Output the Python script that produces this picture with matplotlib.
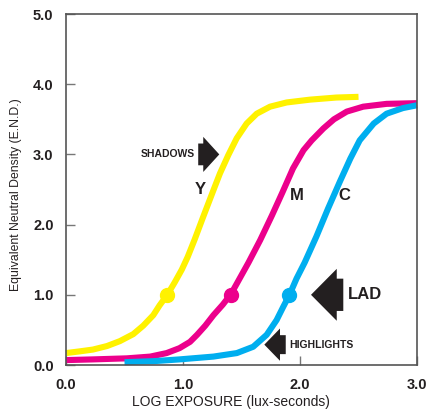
import matplotlib.pyplot as plt
from matplotlib.patches import FancyArrow

plt.rcParams['font.family'] = ['Liberation Sans', 'DejaVu Sans']

# values
yellow_x = [0.0, 0.12, 0.23, 0.35, 0.46, 0.575, 0.66, 0.746, 0.80, 0.866, 0.93, 0.99, 1.04, 1.10, 1.17,
            1.26, 1.316, 1.387, 1.459, 1.544, 1.63, 1.744, 1.886, 2.085, 2.31, 2.5]
yellow_y = [0.17, 0.195, 0.22, 0.27, 0.34, 0.44, 0.56, 0.71, 0.85, 1.0, 1.18, 1.36, 1.54, 1.79, 2.1,
            2.49, 2.73, 2.99, 3.23, 3.44, 3.58, 3.68, 3.74, 3.78, 3.81, 3.82]

magenta_x = [0.0, 0.23, 0.52, 0.72, 0.86, 0.97, 1.06, 1.12, 1.19, 1.26, 1.34, 1.41, 1.50, 1.56, 1.66,
             1.76, 1.85, 1.94, 2.03, 2.1, 2.2, 2.29, 2.40, 2.54, 2.74, 3.0]
magenta_y = [0.07, 0.08, 0.095, 0.12, 0.17, 0.24, 0.33, 0.43, 0.56, 0.71, 0.86, 1.01, 1.28, 1.46, 1.78,
             2.13, 2.46, 2.80, 3.06, 3.2, 3.37, 3.5, 3.61, 3.68, 3.72, 3.73]

cyan_x = [0.5, 0.75, 0.97, 1.26, 1.46, 1.60, 1.715, 1.80, 1.857, 1.91, 1.97, 2.04, 2.14, 2.24, 2.34,
          2.43, 2.51, 2.63, 2.74, 2.88, 3.0]
cyan_y = [0.04, 0.055, 0.08, 0.12, 0.17, 0.26, 0.43, 0.64, 0.83, 1.0, 1.23, 1.46, 1.83, 2.23, 2.61,
          2.94, 3.2, 3.44, 3.58, 3.66, 3.70]

# LAD points (density 1.0)
lad_x = [0.866, 1.41, 1.91]
lad_y = [1.0, 1.0, 1.0]

YELLOW = "#FFF200"
MAGENTA = "#EC008C"
CYAN = "#00AEEF"
DARK = "#231F20"

fig = plt.figure(figsize=(4.3, 4.13), dpi=100)
ax = fig.add_axes([0.1535, 0.1162, 0.8163, 0.8499])

for xs, ys, c in [(yellow_x, yellow_y, YELLOW), (magenta_x, magenta_y, MAGENTA), (cyan_x, cyan_y, CYAN)]:
    ax.plot(xs, ys, color=c, lw=4.4, solid_capstyle="butt", solid_joinstyle="round", clip_on=False)

for px, py, c in zip(lad_x, lad_y, [YELLOW, MAGENTA, CYAN]):
    ax.plot(px, py, "o", color=c, ms=10, zorder=5)

# curve letters
ax.text(1.15, 2.5, "Y", fontsize=12, fontweight="bold", color=DARK, ha="center", va="center")
ax.text(1.97, 2.42, "M", fontsize=12, fontweight="bold", color=DARK, ha="center", va="center")
ax.text(2.38, 2.42, "C", fontsize=12, fontweight="bold", color=DARK, ha="center", va="center")

# block arrows
ax.add_patch(FancyArrow(1.13, 3.0, 0.18, 0, width=0.31, head_width=0.5, head_length=0.137,
                        length_includes_head=True, color=DARK, lw=0))
ax.text(1.10, 3.0, "SHADOWS", fontsize=7.5, fontweight="bold", color=DARK, ha="right", va="center")

ax.add_patch(FancyArrow(2.37, 1.0, -0.276, 0, width=0.46, head_width=0.74, head_length=0.22,
                        length_includes_head=True, color=DARK, lw=0))
ax.text(2.41, 1.0, "LAD", fontsize=12, fontweight="bold", color=DARK, ha="left", va="center")

ax.add_patch(FancyArrow(1.878, 0.29, -0.183, 0, width=0.27, head_width=0.46, head_length=0.134,
                        length_includes_head=True, color=DARK, lw=0))
ax.text(1.906, 0.285, "HIGHLIGHTS", fontsize=7.5, fontweight="bold", color=DARK, ha="left", va="center")

ax.set_xlim(0, 3)
ax.set_ylim(0, 5)
ax.set_xticks([0, 1, 2, 3])
ax.set_xticklabels(["0.0", "1.0", "2.0", "3.0"])
ax.set_yticks([0, 1, 2, 3, 4, 5])
ax.set_yticklabels(["0.0", "1.0", "2.0", "3.0", "4.0", "5.0"])
ax.tick_params(direction="in", length=6.5, width=1, color="#777777", pad=9,
               labelsize=10.5, labelcolor=DARK)
for lbl in ax.get_xticklabels() + ax.get_yticklabels():
    lbl.set_fontweight("bold")

for side in ["left", "bottom", "top", "right"]:
    ax.spines[side].set_color("#555555")
    ax.spines[side].set_linewidth(1.2)

ax.set_xlabel("LOG EXPOSURE (lux-seconds)", fontsize=10, color=DARK)
ax.set_ylabel("Equivalent Neutral Density (E.N.D.)", fontsize=8.8, color=DARK)
ax.xaxis.set_label_coords(0.47, -0.085)
ax.yaxis.set_label_coords(-0.125, 0.484)

plt.savefig("out.png", dpi=100)
